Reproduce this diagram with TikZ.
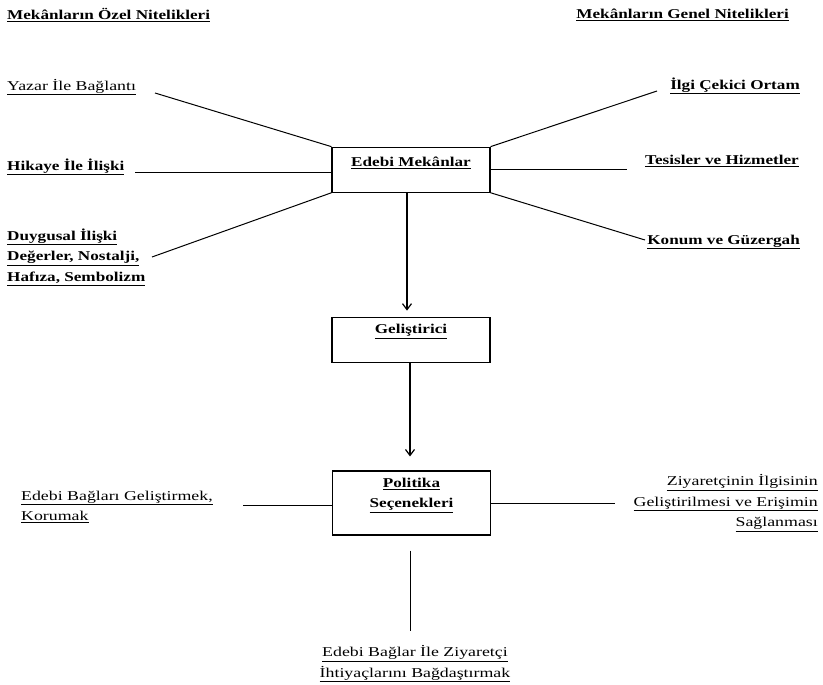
\documentclass[tikz,border=0pt]{standalone}
\usepackage{fontspec}
\setmainfont{Liberation Serif}
\newfontfamily\lblfont{Liberation Serif}[FakeStretch=1.27]
\newfontfamily\widefont{Liberation Serif}[FakeStretch=1.32]
\usetikzlibrary{arrows.meta}
\newcommand\uln[1]{\underline{#1}}

\begin{document}
\begin{tikzpicture}[x=1pt,y=-1pt,
  box/.style={draw, line width=1.1pt, minimum width=158pt, inner sep=0pt},
  boldtxt/.style={font=\lblfont\bfseries\fontsize{13.5}{20.5}\selectfont, inner sep=0pt},
  plaintxt/.style={font=\widefont\fontsize{13.5}{20.5}\selectfont, inner sep=0pt},
  link/.style={line width=1pt},
  flow/.style={line width=1.2pt, -{Straight Barb[length=6pt,width=9pt]}}]
\useasboundingbox (0,0) rectangle (823,685);

% headings
\node[boldtxt, anchor=west] (hL) at (7,15) {\uln{Mekânların Özel Nitelikleri}};
\node[boldtxt, anchor=east] (hR) at (789,15) {\uln{Mekânların Genel Nitelikleri}};

% central boxes
\node[box, minimum height=45pt] (edebi) at (411,169.7) {};
\node[boldtxt] (edebiT) at ([yshift=-16pt]edebi.north) {\uln{Edebi Mekânlar}};
\node[box, minimum height=45pt] (gel) at (411,339.7) {};
\node[boldtxt] (gelT) at ([yshift=-15pt]gel.north) {\uln{Geliştirici}};
\node[box, minimum height=64pt] (pol) at (411.5,503) {};
\node[boldtxt, align=center] (polT) at ([yshift=-25pt]pol.north) {\uln{Politika}\\\uln{Seçenekleri}};

% special qualities (left)
\node[plaintxt, anchor=west] (yazar) at (7,87) {\uln{Yazar İle Bağlantı}};
\node[boldtxt, anchor=west] (hikaye) at (7,167) {\uln{Hikaye İle İlişki}};
\node[boldtxt, anchor=west, align=left] (duygu) at (7,257) {\uln{Duygusal İlişki}\\\uln{Değerler, Nostalji,}\\\uln{Hafıza, Sembolizm}};

% general qualities (right)
\node[boldtxt, anchor=east] (ilgi) at (800,86) {\uln{İlgi Çekici Ortam}};
\node[boldtxt, anchor=east] (tesis) at (799,161) {\uln{Tesisler ve Hizmetler}};
\node[boldtxt, anchor=east] (konum) at (800,242) {\uln{Konum ve Güzergah}};

% policy options
\node[plaintxt, anchor=west, align=left] (bag) at (21,507) {\uln{Edebi Bağları Geliştirmek,}\\\uln{Korumak}};
\node[plaintxt, anchor=east, align=right] (ziy) at (818,503) {\uln{Ziyaretçinin İlgisinin}\\\uln{Geliştirilmesi ve Erişimin}\\\uln{Sağlanması}};
\node[plaintxt, align=center] (ihti) at (415,664) {\uln{Edebi Bağlar İle Ziyaretçi}\\\uln{İhtiyaçlarını Bağdaştırmak}};

% free ends of the connectors
\coordinate (cYazar) at (155,93);
\coordinate (cHikaye) at (135,172);
\coordinate (cDuygu) at (152,257);
\coordinate (cIlgi) at (657,91);
\coordinate (cTesis) at (627,169);
\coordinate (cKonum) at (645,240);
\coordinate (cBag) at (243,505);
\coordinate (cZiy) at (615,503);
\coordinate (cIhti) at (410,631);

% spokes of the top box
\draw[link] (cYazar) -- (edebi.north west);
\draw[link] (cHikaye) -- (cHikaye -| edebi.west);
\draw[link] (cDuygu) -- (edebi.south west);
\draw[link] (edebi.north east) -- (cIlgi);
\draw[link] (cTesis -| edebi.east) -- (cTesis);
\draw[link] (edebi.south east) -- (cKonum);

% main flow
\draw[flow] ([xshift=-4pt]edebi.south) -- ([xshift=-4pt,yshift=6pt]gel.north);
\draw[flow] ([xshift=-1pt]gel.south) -- ([xshift=-1.5pt,yshift=14pt]pol.north);

% spokes of the policy box
\draw[link] (cBag) -- (cBag -| pol.west);
\draw[link] (cZiy -| pol.east) -- (cZiy);
\draw[link] ([xshift=-1.5pt,yshift=-15pt]pol.south) -- (cIhti);
\end{tikzpicture}
\end{document}
